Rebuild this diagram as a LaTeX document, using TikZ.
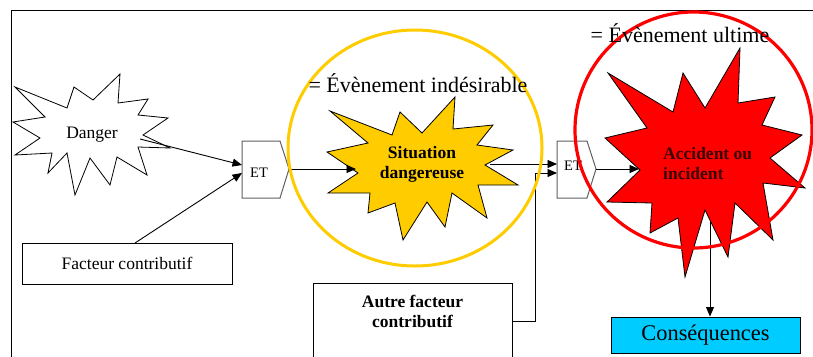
\documentclass[tikz,border=0pt]{standalone}
\usepackage{fontspec}
\setmainfont{Liberation Serif}
\usetikzlibrary{arrows.meta}
\definecolor{starY}{HTML}{FFCC00}
\definecolor{starR}{HTML}{FF0000}
\definecolor{boxC}{HTML}{00CCFF}
\definecolor{etgray}{HTML}{606060}
\definecolor{darkred}{HTML}{3A0000}
\begin{document}
\begin{tikzpicture}[x=1pt,y=-1pt,
 conn/.style={draw=black,line width=0.9pt,-{Triangle[length=9.5pt,width=8pt]}},
 starline/.style={draw=black,line width=0.8pt,line join=miter},
 etbox/.style={draw=etgray,line width=1pt,fill=white},
 plain/.style={font=\fontsize{17.5}{20}\selectfont,inner sep=0pt},
 boldtxt/.style={font=\fontsize{17.5}{20}\selectfont\bfseries,inner sep=0pt,align=center},
 ettxt/.style={font=\fontsize{14.5}{16}\selectfont,inner sep=0pt},
 titletxt/.style={font=\fontsize{22}{24}\selectfont,inner sep=0pt,anchor=base},
 rectbox/.style={draw=black,line width=0.9pt,fill=white}
]
\clip (0,0) rectangle (813,356);
\fill[white] (0,0) rectangle (813,356);
% frame
\coordinate (frameA) at (11,362);
\coordinate (frameB) at (11,10);
\coordinate (frameC) at (816,10);
\draw[line width=1pt] (frameA) -- (frameB) -- (frameC);

% Danger star
\draw[starline,fill=white] (15,87)--(67,108)--(74,87)--(93,100)--(120,74)--(118,103)--(148,99)--(138,115)--(168,118)--(143,135)--(170,148)--(138,147)--(147,175)--(117,157)--(110,185)--(90,158)--(75,195)--(67,153)--(48,173)--(52,153)--(15,155)--(40,138)--(13,122)--(45,117)--cycle;
\node[plain] (danger) at (92,135) {Danger};
\coordinate (dangerout) at (140,139);

% Facteur contributif
\node[rectbox,plain,minimum width=210pt,minimum height=41pt] (fc) at (127,263.5) {Facteur contributif};
\coordinate (fcout) at (135,243);

% ET1
\draw[etbox] (242,141)--(280,141)--(289,169)--(280,198)--(242,198)--cycle;
\node[ettxt] (et1) at (259,173) {ET};
\coordinate (et1inA) at (242,165);
\coordinate (et1inB) at (242,173);
\coordinate (et1out) at (289,169);

% Situation dangereuse star
\draw[starline,fill=starY] (330,111)--(392,135)--(400,112)--(422,133)--(455,97)--(453,129)--(493,125)--(477,145)--(513,150)--(485,165)--(518,185)--(478,185)--(487,218)--(452,193)--(445,227)--(427,202)--(403,240)--(395,203)--(368,213)--(370,193)--(328,193)--(358,173)--(327,152)--(368,143)--cycle;
\node[boldtxt] (sd) at (422,164) {Situation\\dangereuse};
\coordinate (sdin) at (356,169);
\coordinate (sdout) at (490,164);

% Autre facteur contributif
\node[rectbox,boldtxt,minimum width=199pt,minimum height=100pt,anchor=north] (af) at (412.5,283) {};
\node[boldtxt] (aftxt) at (412.5,311) {Autre facteur\\contributif};
\coordinate (afout) at (512,321);
\coordinate (afbend) at (535,321);
\coordinate (afup) at (535,173);

% ET2
\draw[etbox] (557,141)--(587,141)--(596,169)--(587,198)--(557,198)--cycle;
\node[ettxt] (et2) at (573,166) {ET};
\coordinate (et2inA) at (557,164);
\coordinate (et2inB) at (557,173);
\coordinate (et2out) at (596,169);

% Accident star
\draw[starline,fill=starR] (608,73)--(673,112)--(683,73)--(705,108)--(740,48)--(738,103)--(775,97)--(762,125)--(802,135)--(770,158)--(805,188)--(763,183)--(773,240)--(735,203)--(728,257)--(705,210)--(685,277)--(678,218)--(650,233)--(652,203)--(607,202)--(640,170)--(605,138)--(647,128)--cycle;
\node[boldtxt,align=left,anchor=west,text=darkred] (acc) at (663,164) {Accident ou\\incident};
\coordinate (accin) at (639,169);
\coordinate (accout) at (710,222);

% Consequences
\node[draw=black,line width=1pt,fill=boxC,minimum width=189pt,minimum height=36pt,inner sep=0pt,font=\fontsize{22.4}{24}\selectfont] (cons) at (705.5,335) {Conséquences};

% connectors
\draw[conn] (dangerout) -- (et1inA);
\draw[conn] (fcout) -- (et1inB);
\draw[conn] (et1out) -- (sdin);
\draw[conn] (sdout) -- (et2inA);
\draw[conn] (afout) -- (afbend) -- (afup) -- (et2inB);
\draw[conn] (et2out) -- (accin);
\draw[conn] (accout) -- (cons.north -| accout);

% circles
\draw[starY,line width=3pt] (415,148) ellipse [x radius=127, y radius=118];
\draw[starR,line width=3.2pt] (693.5,130) ellipse [x radius=118.5, y radius=118];

% titles
\node[titletxt] (t1) at (418,92) {= Évènement indésirable};
\node[titletxt] (t2) at (680,42) {= Évènement ultime};
\end{tikzpicture}
\end{document}
